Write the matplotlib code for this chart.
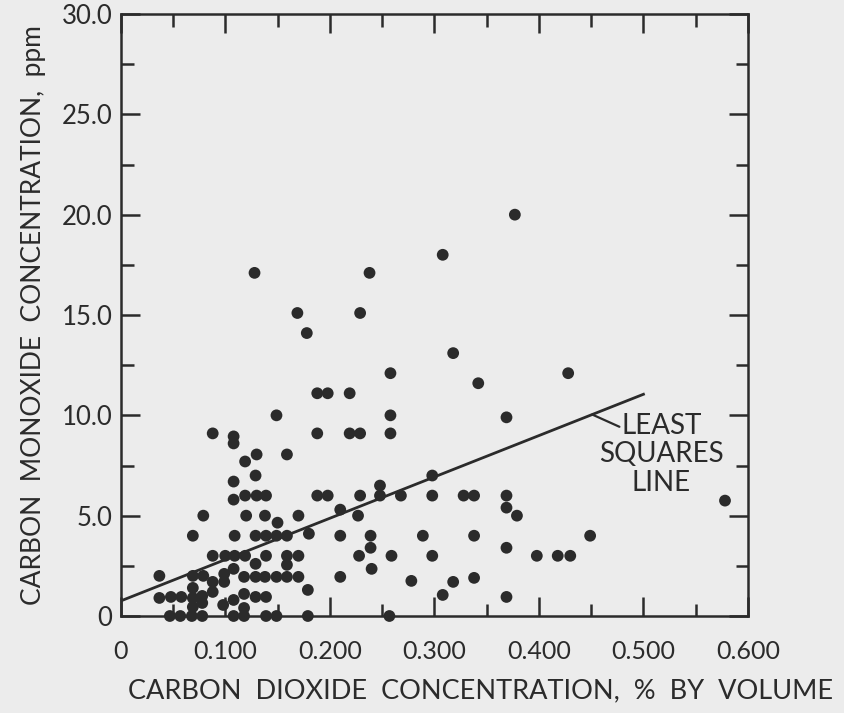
import matplotlib
matplotlib.use("Agg")
import matplotlib.pyplot as plt
from matplotlib.ticker import MultipleLocator, FixedLocator, FixedFormatter

# ---- data ----
co2_pct = [
    0.377, 0.308, 0.128, 0.238, 0.169, 0.229, 0.178, 0.318, 0.258, 0.428,
    0.342, 0.188, 0.198, 0.219, 0.149, 0.258, 0.369,
    0.088, 0.188, 0.219, 0.229, 0.258, 0.108, 0.108, 0.130, 0.159,
    0.119, 0.129, 0.298, 0.108, 0.248,
    0.119, 0.130, 0.139, 0.188, 0.198, 0.229, 0.248, 0.268, 0.298, 0.328, 0.338, 0.369,
    0.108, 0.578, 0.369, 0.210,
    0.079, 0.120, 0.138, 0.170, 0.227, 0.379,
    0.150,
    0.069, 0.109, 0.129, 0.139, 0.149, 0.159, 0.180, 0.210, 0.239, 0.289, 0.338, 0.449,
    0.239, 0.369,
    0.088, 0.100, 0.109, 0.119, 0.139, 0.159, 0.170, 0.228, 0.259, 0.298, 0.398, 0.418, 0.430,
    0.129, 0.159, 0.108, 0.240, 0.099,
    0.037, 0.069, 0.079, 0.118, 0.129, 0.138, 0.149, 0.159, 0.170, 0.210, 0.338,
    0.088, 0.099, 0.278, 0.318,
    0.069, 0.179, 0.088, 0.118, 0.308,
    0.037, 0.048, 0.058, 0.078, 0.129, 0.139, 0.369,
    0.069, 0.108, 0.078, 0.098, 0.069, 0.118,
    0.047, 0.057, 0.068, 0.078, 0.108, 0.118, 0.139, 0.149, 0.179, 0.257,
]
co_ppm = [
    20.0, 18.0, 17.1, 17.1, 15.1, 15.1, 14.1, 13.1, 12.1, 12.1,
    11.6, 11.1, 11.1, 11.1, 10.0, 10.0, 9.9,
    9.1, 9.1, 9.1, 9.1, 9.1, 8.95, 8.6, 8.05, 8.05,
    7.7, 7.0, 7.0, 6.7, 6.5,
    6.0, 6.0, 6.0, 6.0, 6.0, 6.0, 6.0, 6.0, 6.0, 6.0, 6.0, 6.0,
    5.8, 5.75, 5.4, 5.3,
    5.0, 5.0, 5.0, 5.0, 5.0, 5.0,
    4.65,
    4.0, 4.0, 4.0, 4.0, 4.0, 4.0, 4.1, 4.0, 4.0, 4.0, 4.0, 4.0,
    3.4, 3.4,
    3.0, 3.0, 3.0, 3.0, 3.0, 3.0, 3.0, 3.0, 3.0, 3.0, 3.0, 3.0, 3.0,
    2.6, 2.55, 2.35, 2.35, 2.1,
    2.0, 2.0, 2.0, 1.95, 1.95, 1.95, 1.95, 1.95, 1.95, 1.95, 1.9,
    1.7, 1.7, 1.75, 1.7,
    1.4, 1.3, 1.2, 1.1, 1.05,
    0.9, 0.95, 0.95, 1.0, 0.95, 0.95, 0.95,
    0.9, 0.8, 0.65, 0.55, 0.45, 0.4,
    0.0, 0.0, 0.0, 0.0, 0.0, 0.0, 0.0, 0.0, 0.0, 0.0,
]

fit_x = [0.0, 0.5]
fit_y = [0.75, 11.05]

x_ticks = [0.0, 0.1, 0.2, 0.3, 0.4, 0.5, 0.6]
x_labels = ["0", "0.100", "0.200", "0.300", "0.400", "0.500", "0.600"]
y_ticks = [0, 5, 10, 15, 20, 25, 30]
y_labels = ["0", "5.0", "10.0", "15.0", "20.0", "25.0", "30.0"]

# ---- style ----
bg = "#ececec"
ink = "#2b2b2b"
plt.rcParams["font.family"] = ["Lato", "DejaVu Sans"]

fig = plt.figure(figsize=(8.44, 7.13), dpi=100, facecolor=bg)
ax = fig.add_axes([120.7 / 844, 1 - 616 / 713, (748 - 120.7) / 844, 602 / 713])
ax.set_facecolor(bg)

ax.scatter(co2_pct, co_ppm, s=72, color=ink, edgecolors="none", zorder=3, clip_on=False)
ax.plot(fit_x, fit_y, color=ink, lw=2.0, zorder=2)

ax.set_xlim(0, 0.6)
ax.set_ylim(0, 30)

ax.xaxis.set_major_locator(FixedLocator(x_ticks))
ax.xaxis.set_major_formatter(FixedFormatter(x_labels))
ax.xaxis.set_minor_locator(MultipleLocator(0.05))
ax.yaxis.set_major_locator(FixedLocator(y_ticks))
ax.yaxis.set_major_formatter(FixedFormatter(y_labels))
ax.yaxis.set_minor_locator(MultipleLocator(2.5))

ax.tick_params(which="both", direction="in", top=True, right=True, color=ink, width=1.8)
ax.tick_params(which="major", length=14)
ax.tick_params(which="minor", length=9)
ax.tick_params(axis="x", which="major", pad=17, labelsize=18, labelcolor=ink)
ax.tick_params(axis="y", which="major", pad=6, labelsize=18.5, labelcolor=ink)

for sp in ax.spines.values():
    sp.set_color(ink)
    sp.set_linewidth(1.8)

ax.set_xlabel("CARBON  DIOXIDE  CONCENTRATION,  %  BY  VOLUME", fontsize=19.5,
              color=ink)
ax.xaxis.set_label_coords(0.573, -0.104)
ax.set_ylabel("CARBON  MONOXIDE  CONCENTRATION,  ppm", fontsize=19,
              color=ink, labelpad=11)

# annotation for the least squares line: leader tick + label
ax.annotate("", xy=(0.451, 10.04), xytext=(0.477, 9.43),
            arrowprops=dict(arrowstyle="-", color=ink, lw=1.6,
                            shrinkA=0, shrinkB=0))
ax.text(0.517, 8.05, "LEAST\nSQUARES\nLINE", ha="center", va="center",
        fontsize=20, color=ink, linespacing=1.1)

fig.savefig("out.png", dpi=100, facecolor=bg)
